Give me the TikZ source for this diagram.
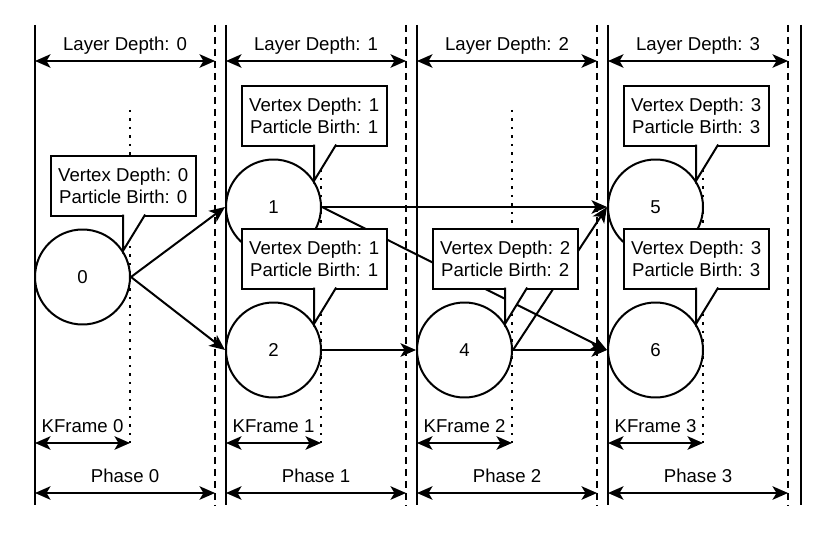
\documentclass[tikz,border=0pt]{standalone}
\usepackage{fontspec}
\setmainfont{Liberation Sans}
\usetikzlibrary{arrows.meta,positioning}

\begin{document}
\begin{tikzpicture}[
    x=0.02cm, y=-0.02cm,
    every node/.style={font=\fontsize{10.6}{12.3}\selectfont},
    phasestart/.style={line width=0.042cm},
    phaseend/.style={line width=0.042cm, dash pattern=on 0.14cm off 0.1cm},
    kframeline/.style={line width=0.036cm, dash pattern=on 0.045cm off 0.125cm},
    dimline/.style={line width=0.04cm, {Stealth[length=0.31cm,width=0.27cm,inset=0.08cm]}-{Stealth[length=0.31cm,width=0.27cm,inset=0.08cm]}},
    dimlabel/.style={above, text depth=2pt},
    vertex/.style={circle, draw, fill=white, line width=0.04cm, minimum size=1.9cm, inner sep=0pt},
    flow/.style={-{Stealth[length=0.31cm,width=0.27cm,inset=0.08cm]}, line width=0.04cm},
    note/.style={draw, fill=white, line width=0.04cm, outer sep=0pt, minimum width=2.9cm, minimum height=1.2cm, align=center, inner sep=2pt},
    pointer/.style={line width=0.04cm, fill=white}
]
\useasboundingbox (0,0) rectangle (830,533);

% phases
\foreach \i in {0,...,3} {
    \draw[phasestart] ({35+191*\i},25) -- ({35+191*\i},505);
    \draw[phaseend] ({215+191*\i},25) -- ({215+191*\i},505);
    \draw[kframeline] ({130+191*\i},110) -- ({130+191*\i},443);
    \coordinate (lay\i) at ({35+191*\i},61);
    \coordinate (layend\i) at ({215+191*\i},61);
    \coordinate (kf\i) at ({35+191*\i},443);
    \coordinate (kfend\i) at ({130+191*\i},443);
    \coordinate (ph\i) at ({35+191*\i},493);
    \coordinate (phend\i) at ({215+191*\i},493);
    \draw[dimline] (lay\i) -- node[dimlabel] {Layer Depth: \i} (layend\i);
    \draw[dimline] (kf\i) -- node[dimlabel] {KFrame \i} (kfend\i);
    \draw[dimline] (ph\i) -- node[dimlabel] {Phase \i} (phend\i);
}
\draw[phasestart] (801,25) -- (801,505);

% vertices
\node[vertex] (v0) at (82.5,277) {0};
\node[vertex] (v1) at (273.5,207) {1};
\node[vertex] (v2) at (273.5,350) {2};
\node[vertex] (v4) at (464.5,350) {4};
\node[vertex] (v5) at (655.5,207) {5};
\node[vertex] (v6) at (655.5,350) {6};

\draw[flow] (v0.east) -- (v1.west);
\draw[flow] (v0.east) -- (v2.west);
\draw[flow] (v1.east) -- (v5.west);
\draw[flow] (v1.east) -- (v6.west);
\draw[flow] (v2.east) -- (v4.west);
\draw[flow] (v4.east) -- (v5.west);
\draw[flow] (v4.east) -- (v6.west);

% notes
\foreach \v/\d in {v0/0, v1/1, v2/1, v4/2, v5/3, v6/3} {
    \coordinate (t\v) at (\v.33);
    \node[note, above=0.7cm of t\v] (n\v) {Vertex Depth: \d\\Particle Birth: \d};
    \filldraw[pointer] ([yshift=0.02cm]n\v.south) -- (t\v) -- ([shift={(0.44cm,0.02cm)}]n\v.south);
}
\end{tikzpicture}
\end{document}
